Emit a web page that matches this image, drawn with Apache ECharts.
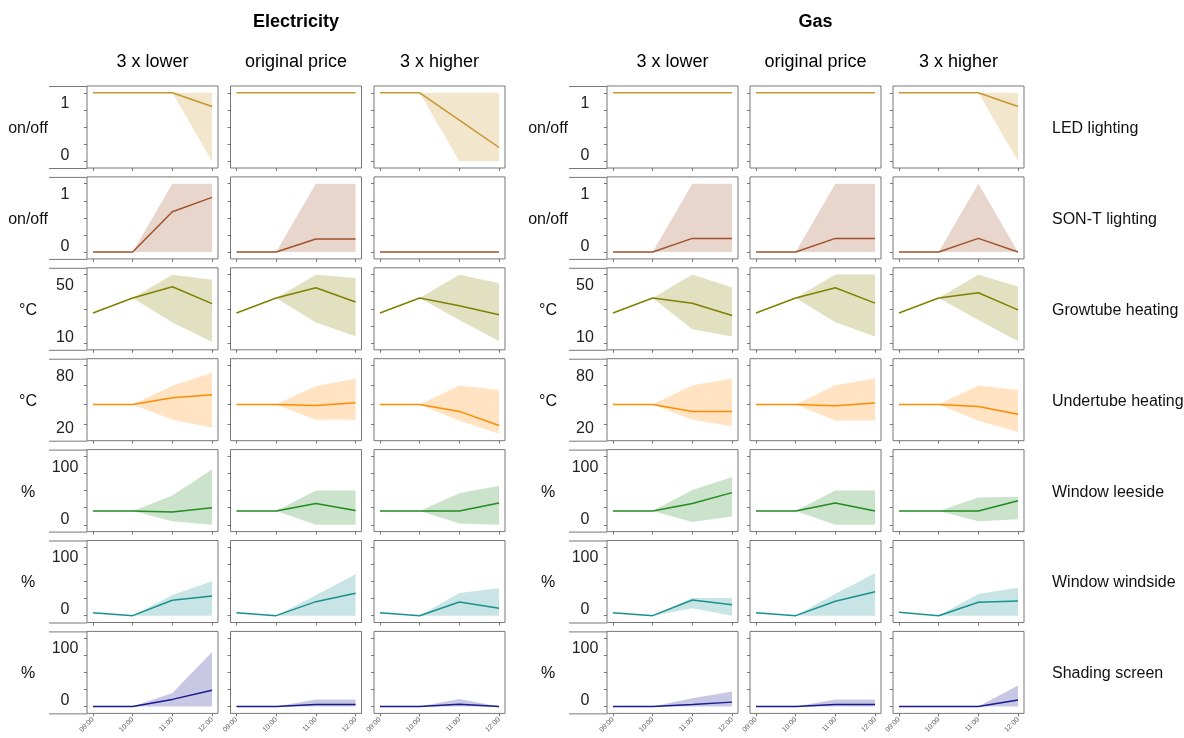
<!DOCTYPE html>
<html>
<head>
<meta charset="utf-8">
<script src="https://cdn.jsdelivr.net/npm/echarts@6/dist/echarts.min.js"></script>
<style>
  html, body { margin: 0; padding: 0; background: #fff; }
  #chart { width: 1184px; height: 738px; }
</style>
</head>
<body>
<div id="chart"></div>
<script>
// ---- labels ----
const times = ['09:00', '10:00', '11:00', '12:00'];
const energies = ['Electricity', 'Gas'];
const scenarios = ['3 x lower', 'original price', '3 x higher'];
const controls = ['LED lighting', 'SON-T lighting', 'Growtube heating', 'Undertube heating',
                  'Window leeside', 'Window windside', 'Shading screen'];
const units = ['on/off', 'on/off', '°C', '°C', '%', '%', '%'];
const colors = ['#c8962e', '#a0522d', '#808000', '#ff8c00', '#228b22', '#1a9090', '#1a1a90'];

// ---- y scales per control ----
const yRanges = [[-0.1, 1.1], [-0.1, 1.1], [6, 54], [3, 87], [-10, 110], [-10, 110], [-10, 110]];
const yTicks = [
  [0, 0.25, 0.5, 0.75, 1], [0, 0.25, 0.5, 0.75, 1], [10, 20, 30, 40, 50], [20, 40, 60, 80],
  [0, 25, 50, 75, 100], [0, 25, 50, 75, 100], [0, 25, 50, 75, 100]
];
const yLabelValues = [[0, 1], [0, 1], [10, 50], [20, 80], [0, 100], [0, 100], [0, 100]];

// ---- data: one row per panel, order: Electricity lower/original/higher, Gas lower/original/higher ----
const ledMean = [[1, 1, 1, 0.8], [1, 1, 1, 1], [1, 1, 0.6, 0.2], [1, 1, 1, 1], [1, 1, 1, 1], [1, 1, 1, 0.8]];
const ledLow  = [[1, 1, 1, 0], [1, 1, 1, 1], [1, 1, 0, 0], [1, 1, 1, 1], [1, 1, 1, 1], [1, 1, 1, 0]];
const ledHigh = [[1, 1, 1, 1], [1, 1, 1, 1], [1, 1, 1, 1], [1, 1, 1, 1], [1, 1, 1, 1], [1, 1, 1, 1]];

const sonMean = [[0, 0, 0.59, 0.8], [0, 0, 0.19, 0.19], [0, 0, 0, 0], [0, 0, 0.2, 0.2], [0, 0, 0.2, 0.2], [0, 0, 0.2, 0]];
const sonLow  = [[0, 0, 0, 0], [0, 0, 0, 0], [0, 0, 0, 0], [0, 0, 0, 0], [0, 0, 0, 0], [0, 0, 0, 0]];
const sonHigh = [[0, 0, 1, 1], [0, 0, 1, 1], [0, 0, 0, 0], [0, 0, 1, 1], [0, 0, 1, 1], [0, 0, 1, 0]];

const growMean = [[27.5, 36.3, 42.9, 33], [27.5, 36.3, 42.3, 34], [27.5, 36.3, 31.8, 26.5],
                  [27.5, 36.3, 33.3, 26.1], [27.5, 36.3, 42.3, 33.3], [27.5, 36.3, 39.4, 29.4]];
const growLow  = [[27.5, 36.3, 22, 10.5], [27.5, 36.3, 22, 14], [27.5, 36.3, 23.5, 11],
                  [27.5, 36.3, 18.1, 13.8], [27.5, 36.3, 22.2, 13.8], [27.5, 36.3, 23.5, 11]];
const growHigh = [[27.5, 36.3, 50, 47], [27.5, 36.3, 50, 48], [27.5, 36.3, 50, 45],
                  [27.5, 36.3, 50.1, 42.5], [27.5, 36.3, 50.1, 50.1], [27.5, 36.3, 50, 43]];

const underMean = [[40, 40, 47, 50], [40, 40, 39, 42], [40, 40, 33, 18.5],
                   [40, 40, 33, 33], [40, 40, 38.8, 41.6], [40, 40, 38, 30]];
const underLow  = [[40, 40, 24.5, 16.3], [40, 40, 24.5, 24.5], [40, 40, 23.5, 10],
                   [40, 40, 24.5, 17.7], [40, 40, 23.8, 23.8], [40, 40, 23.5, 12]];
const underHigh = [[40, 40, 59.3, 72.7], [40, 40, 59, 66.5], [40, 40, 59.5, 55],
                   [40, 40, 59.7, 66.8], [40, 40, 59.7, 66.8], [40, 40, 59.5, 55]];

const leeMean = [[20, 20, 18.6, 25], [20, 20, 31, 21], [20, 20, 20, 32],
                 [20, 20, 31, 47], [20, 20, 32, 20], [20, 20, 20, 35]];
const leeLow  = [[20, 20, 5, 0], [20, 20, 0, 0], [20, 20, 2, 0],
                 [20, 20, 4, 12], [20, 20, 0, 0], [20, 20, 5, 8]];
const leeHigh = [[20, 20, 43, 81], [20, 20, 50, 50], [20, 20, 46, 57],
                 [20, 20, 51, 70], [20, 20, 50, 50], [20, 20, 40, 41]];

const windMean = [[4.4, 0, 22.5, 28.8], [4.4, 0, 20.5, 32.8], [4.4, 0, 20, 11],
                  [4.4, 0, 23, 16], [4.4, 0, 21, 35], [5, 0, 19.6, 21.5]];
const windLow  = [[4.4, 0, 0, 0], [4.4, 0, 0, 0], [4.4, 0, 0, 0],
                  [4.4, 0, 11, 0], [4.4, 0, 0, 0], [5, 0, 0, 0]];
const windHigh = [[4.4, 0, 30.3, 50.3], [4.4, 0, 30, 60.6], [4.4, 0, 33, 40],
                  [4.4, 0, 26, 26], [4.4, 0, 32, 62], [5, 0, 31.8, 41]];

const shadeMean = [[0, 0, 10.5, 24], [0, 0, 3, 3], [0, 0, 3.5, 0],
                   [0, 0, 3, 6.5], [0, 0, 3, 3], [0, 0, 0, 9.5]];
const shadeLow  = [[0, 0, 0, 0], [0, 0, 0, 0], [0, 0, 0, 0],
                   [0, 0, 0, 0], [0, 0, 0, 0], [0, 0, 0, 0]];
const shadeHigh = [[0, 0, 20, 80], [0, 0, 10.5, 10.5], [0, 0, 11, 0],
                   [0, 0, 12, 22], [0, 0, 10.5, 10.5], [0, 0, 0, 31]];

const meanRows = [ledMean, sonMean, growMean, underMean, leeMean, windMean, shadeMean];
const lowRows  = [ledLow, sonLow, growLow, underLow, leeLow, windLow, shadeLow];
const highRows = [ledHigh, sonHigh, growHigh, underHigh, leeHigh, windHigh, shadeHigh];

// ---- layout ----
const FONT = 'Liberation Sans, Arial, sans-serif';
const AXIS_COLOR = '#777';
const colLeft = [87, 230.5, 374, 607, 750, 893];
const panelW = 131, panelH = 82;
const rowTop0 = 86, rowStep = 90.9;
const labelInset = 15;   // centre of the y tick labels, measured from the panel's edge
const glyphShift = 2.5;  // digits sit slightly above the centre of their line box
const textShift = 1.5;

function rgba(hex, a) {
  const n = parseInt(hex.slice(1), 16);
  return 'rgba(' + ((n >> 16) & 255) + ',' + ((n >> 8) & 255) + ',' + (n & 255) + ',' + a + ')';
}

// tick label moved down by s pixels (up when s < 0) using an empty spacer line
function shiftedLabel(text, s, spacer) {
  return s >= 0 ? '{' + spacer + '| }\n{n|' + text + '}' : '{n|' + text + '}\n{' + spacer + '| }';
}

// band between low and high, one polygon per panel
function bandRenderer(color) {
  return function (params, api) {
    const up = [], down = [];
    for (let i = 0; i < 4; i++) {
      down.push(api.coord([i, api.value(i)]));
      up.push(api.coord([i, api.value(4 + i)]));
    }
    return {
      type: 'polygon',
      shape: { points: down.concat(up.reverse()) },
      style: { fill: color, stroke: null }
    };
  };
}

const grid = [], xAxis = [], yAxis = [], series = [], graphic = [];

for (let r = 0; r < controls.length; r++) {
  const top = rowTop0 + r * rowStep;
  const [mn, mx] = yRanges[r];
  const ppu = panelH / (mx - mn);
  const [loLab, hiLab] = yLabelValues[r];
  const sTop = labelInset - (mx - hiLab) * ppu + glyphShift;       // downward shift, top label
  const sBot = -(labelInset - (loLab - mn) * ppu) + glyphShift;    // downward shift, bottom label

  for (let c = 0; c < 6; c++) {
    const g = grid.length;
    const left = colLeft[c];
    grid.push({
      left: left, top: top, width: panelW, height: panelH,
      show: true, borderColor: AXIS_COLOR, borderWidth: 1, backgroundColor: '#fff'
    });
    const bottomRow = r === controls.length - 1;
    xAxis.push({
      gridIndex: g, type: 'value', min: -0.15, max: 3.15, position: 'bottom',
      axisLine: { show: false, onZero: false }, splitLine: { show: false },
      axisTick: { show: true, inside: false, length: 3, customValues: [0, 1, 2, 3],
                  lineStyle: { color: AXIS_COLOR } },
      axisLabel: {
        show: bottomRow, customValues: [0, 1, 2, 3], rotate: 45, margin: 5,
        fontSize: 7, color: '#555', fontFamily: FONT,
        formatter: v => times[Math.round(v)]
      }
    });
    const showLabels = c === 0 || c === 3;
    yAxis.push({
      gridIndex: g, type: 'value', min: mn, max: mx, position: 'left',
      axisLine: { show: false, onZero: false }, splitLine: { show: false },
      axisTick: { show: true, inside: false, length: 3, customValues: yTicks[r],
                  lineStyle: { color: AXIS_COLOR } },
      axisLabel: {
        show: showLabels, customValues: [loLab, hiLab], align: 'center', margin: 22,
        fontFamily: FONT,
        formatter: function (v) {
          if (Math.abs(v - hiLab) < 1e-9) return shiftedLabel(String(hiLab), sTop, 'gt');
          return shiftedLabel(String(loLab), sBot, 'gb');
        },
        rich: {
          n:  { fontSize: 16, lineHeight: 18, color: '#222', fontFamily: FONT },
          gt: { fontSize: 1, lineHeight: 2 * Math.abs(sTop) },
          gb: { fontSize: 1, lineHeight: 2 * Math.abs(sBot) }
        }
      }
    });

    const mean = meanRows[r][c], low = lowRows[r][c], high = highRows[r][c];
    series.push({
      type: 'custom', xAxisIndex: g, yAxisIndex: g, silent: true, z: 2,
      renderItem: bandRenderer(rgba(colors[r], 0.24)),
      data: [low.concat(high)]
    });
    series.push({
      type: 'line', xAxisIndex: g, yAxisIndex: g, silent: true, z: 5,
      data: mean.map((v, i) => [i, v]),
      symbol: 'none', lineStyle: { width: 1.5, color: colors[r] }
    });

    if (showLabels) {
      // short rules extending the panel frame towards the unit label
      graphic.push({ type: 'line', silent: true,
        shape: { x1: left - 38, y1: top + 0.5, x2: left, y2: top + 0.5 },
        style: { stroke: AXIS_COLOR, lineWidth: 1 } });
      graphic.push({ type: 'line', silent: true,
        shape: { x1: left - 38, y1: top + panelH + 0.5, x2: left, y2: top + panelH + 0.5 },
        style: { stroke: AXIS_COLOR, lineWidth: 1 } });
      graphic.push({ type: 'text', silent: true,
        x: left - 59, y: top + panelH / 2 + textShift,
        style: { text: units[r], font: '16px ' + FONT, fill: '#111',
                 textAlign: 'center', textVerticalAlign: 'middle' } });
    }
  }
  graphic.push({ type: 'text', silent: true,
    x: 1052, y: top + panelH / 2 + textShift,
    style: { text: controls[r], font: '16px ' + FONT, fill: '#111',
             textAlign: 'left', textVerticalAlign: 'middle' } });
}

// group and scenario headings
for (let e = 0; e < energies.length; e++) {
  const mid = colLeft[e * 3 + 1] + panelW / 2;
  graphic.push({ type: 'text', silent: true, x: mid, y: 21 + textShift,
    style: { text: energies[e], font: 'bold 18px ' + FONT, fill: '#000',
             textAlign: 'center', textVerticalAlign: 'middle' } });
  for (let s = 0; s < scenarios.length; s++) {
    graphic.push({ type: 'text', silent: true, x: colLeft[e * 3 + s] + panelW / 2, y: 61 + textShift,
      style: { text: scenarios[s], font: '18px ' + FONT, fill: '#000',
               textAlign: 'center', textVerticalAlign: 'middle' } });
  }
}

const chart = echarts.init(document.getElementById('chart'), null, { renderer: 'canvas' });
chart.setOption({
  animation: false,
  backgroundColor: '#fff',
  textStyle: { fontFamily: FONT },
  grid, xAxis, yAxis, series, graphic
});
</script>
</body>
</html>
